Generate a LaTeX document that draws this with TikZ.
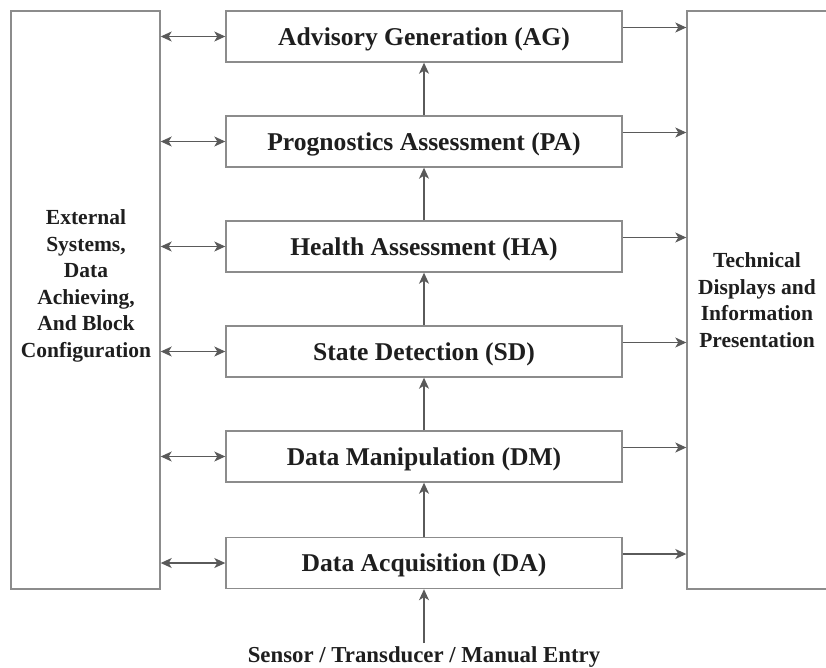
\documentclass[tikz,border=0pt]{standalone}
\usepackage{fontspec}
\setmainfont{Liberation Serif}
\usetikzlibrary{arrows.meta}
\definecolor{boxline}{HTML}{8C8C8C}
\definecolor{arrowline}{HTML}{5A5A5A}
\definecolor{ink}{HTML}{1E1E1E}
\begin{document}
\begin{tikzpicture}[x=1pt,y=-1pt,
  stage/.style={draw=boxline,line width=1.4pt,minimum width=396pt,minimum height=51pt,
    inner sep=0pt,text height=17pt,text depth=0pt,text=ink,font=\bfseries\fontsize{25.6}{28}\selectfont},
  sidebox/.style={draw=boxline,line width=1.4pt,inner sep=0pt},
  sidetext/.style={align=center,text=ink,font=\bfseries\fontsize{21.5}{26.6}\selectfont},
  flow/.style={draw=arrowline,line width=1.2pt,-{Stealth[length=11pt,width=10pt,inset=3pt]}},
  link/.style={draw=arrowline,line width=1.2pt,{Stealth[length=11pt,width=10pt,inset=3pt]}-{Stealth[length=11pt,width=10pt,inset=3pt]}}]
\useasboundingbox (0,0) rectangle (826,667);
\begin{scope}
\clip (0,0) rectangle (826,667);
% outer columns
\node[sidebox,minimum width=149pt,minimum height=578pt] (ext) at (85.5,300) {};
\node[sidebox,minimum width=160pt,minimum height=578pt] (tdi) at (767,300) {};
\end{scope}
\node[sidetext] at (86,286) {External\\Systems,\\Data\\Achieving,\\And Block\\Configuration};
\node[sidetext] at (757,300) {Technical\\Displays and\\Information\\Presentation};
% processing stages
\node[stage] (ag) at (424,36.5) {Advisory Generation (AG)};
\node[stage] (pa) at (424,141.5) {Prognostics Assessment (PA)};
\node[stage] (ha) at (424,246.5) {Health Assessment (HA)};
\node[stage] (sd) at (424,351.5) {State Detection (SD)};
\node[stage] (dm) at (424,456.5) {Data Manipulation (DM)};
\node[stage] (da) at (424,563) {Data Acquisition (DA)};
\node[text=ink,font=\bfseries\fontsize{22.8}{26}\selectfont,inner sep=0pt,anchor=north] (src) at (424,646) {Sensor / Transducer / Manual Entry};
% upward flow
\draw[flow] ([yshift=3pt]src.north) -- (da.south);
\draw[flow] (da.north) -- (dm.south);
\draw[flow] (dm.north) -- (sd.south);
\draw[flow] (sd.north) -- (ha.south);
\draw[flow] (ha.north) -- (pa.south);
\draw[flow] (pa.north) -- (ag.south);
% exchange with external systems and output to displays
\foreach \s in {ag,pa,ha,sd,dm,da}{
  \draw[link] (ext.east |- \s.west) -- (\s.west);
  \draw[flow] ([yshift=9pt]\s.east) -- ([yshift=9pt]\s.east -| tdi.west);
}
\end{tikzpicture}
\end{document}
